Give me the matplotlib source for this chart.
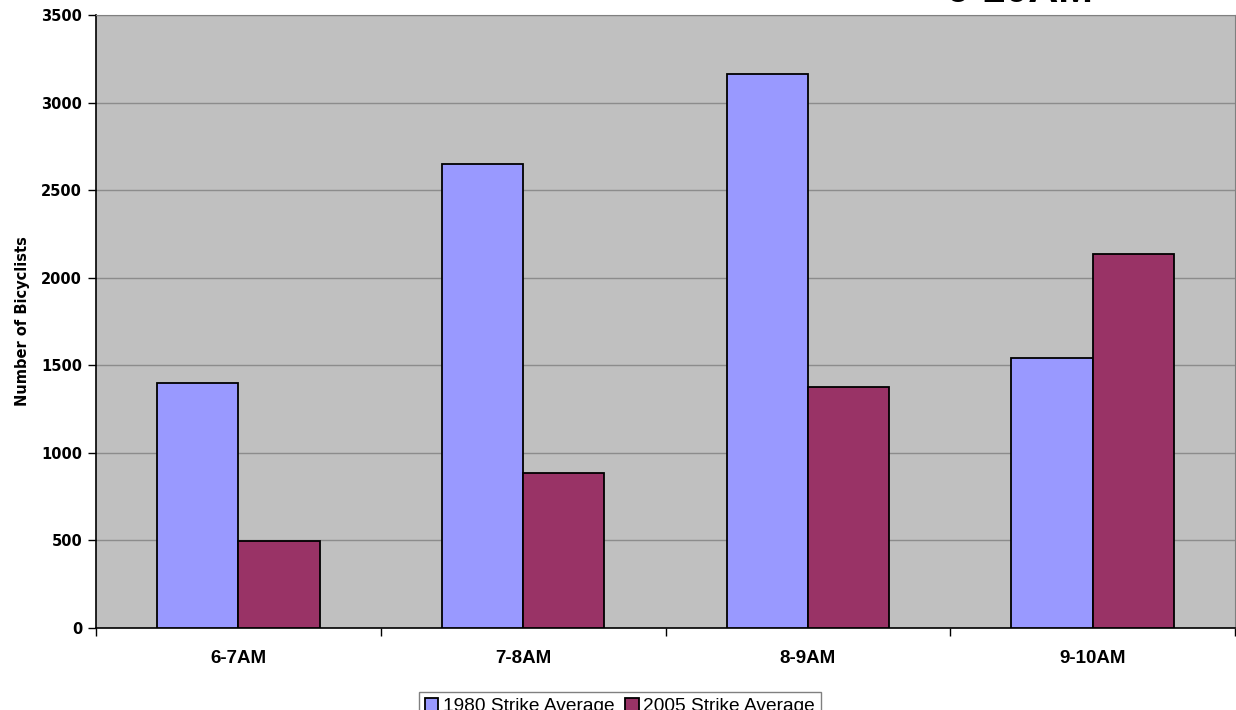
import matplotlib
matplotlib.use("Agg")
import matplotlib.pyplot as plt
import numpy as np

categories = ["6-7AM", "7-8AM", "8-9AM", "9-10AM"]
series_names = ["1980 Strike Average", "2005 Strike Average"]
values_1980 = [1400, 2650, 3165, 1540]
values_2005 = [497, 885, 1376, 2135]
y_ticks = [0, 500, 1000, 1500, 2000, 2500, 3000, 3500]

W, H = 1236, 710
fig = plt.figure(figsize=(W / 100, H / 100), dpi=100)
ax = fig.add_axes([96 / W, (H - 628) / H, (1235 - 96) / W, (628 - 15) / H])
ax.set_facecolor("#C0C0C0")

x = np.arange(len(categories))
bw = 0.285
ax.bar(x - bw / 2, values_1980, width=bw, color="#9999FF", edgecolor="black",
       linewidth=1.3, label=series_names[0], zorder=3)
ax.bar(x + bw / 2, values_2005, width=bw, color="#993366", edgecolor="black",
       linewidth=1.3, label=series_names[1], zorder=3)

ax.set_xlim(-0.5, len(categories) - 0.5)
ax.set_ylim(0, 3500)
ax.set_yticks(y_ticks)
ax.set_yticklabels([str(v) for v in y_ticks], fontsize=10.5, fontweight="bold",
                   family="DejaVu Sans")
ax.yaxis.grid(True, color="#8C8C8C", linewidth=1.0, zorder=1)
ax.set_axisbelow(True)

ax.set_xticks(x)
ax.set_xticklabels(categories, fontsize=13.5, fontweight="bold", family="Liberation Sans")
ax.set_xticks(np.arange(len(categories) + 1) - 0.5, minor=True)
ax.tick_params(axis="x", which="major", length=0, pad=16)
ax.tick_params(axis="x", which="minor", length=6, width=1, color="black", direction="out")
ax.tick_params(axis="y", which="major", length=6, width=1, color="black", direction="out", pad=4)

ax.spines["left"].set_color("black")
ax.spines["bottom"].set_color("black")
ax.spines["left"].set_linewidth(1.2)
ax.spines["bottom"].set_linewidth(1.2)
ax.spines["top"].set_color("#808080")
ax.spines["right"].set_color("#808080")

ax.set_ylabel("Number of Bicyclists", fontsize=10.5, fontweight="bold", family="DejaVu Sans",
              labelpad=8)

fig.text(1093 / W, 1 - 1.5 / H, "6-10AM", ha="right", va="baseline", fontsize=30,
         fontweight="bold", family="Liberation Sans")

leg = fig.legend(loc="upper center", bbox_to_anchor=(620 / W, 1 - 692 / H), ncol=2,
                 frameon=True, fancybox=False, edgecolor="#606060",
                 prop={"family": "Liberation Sans", "size": 13.8},
                 handlelength=0.7, handleheight=0.7, handletextpad=0.25,
                 columnspacing=0.55, borderpad=0.3, borderaxespad=0)
leg.get_frame().set_linewidth(1.0)

fig.savefig("out.png", dpi=100)
